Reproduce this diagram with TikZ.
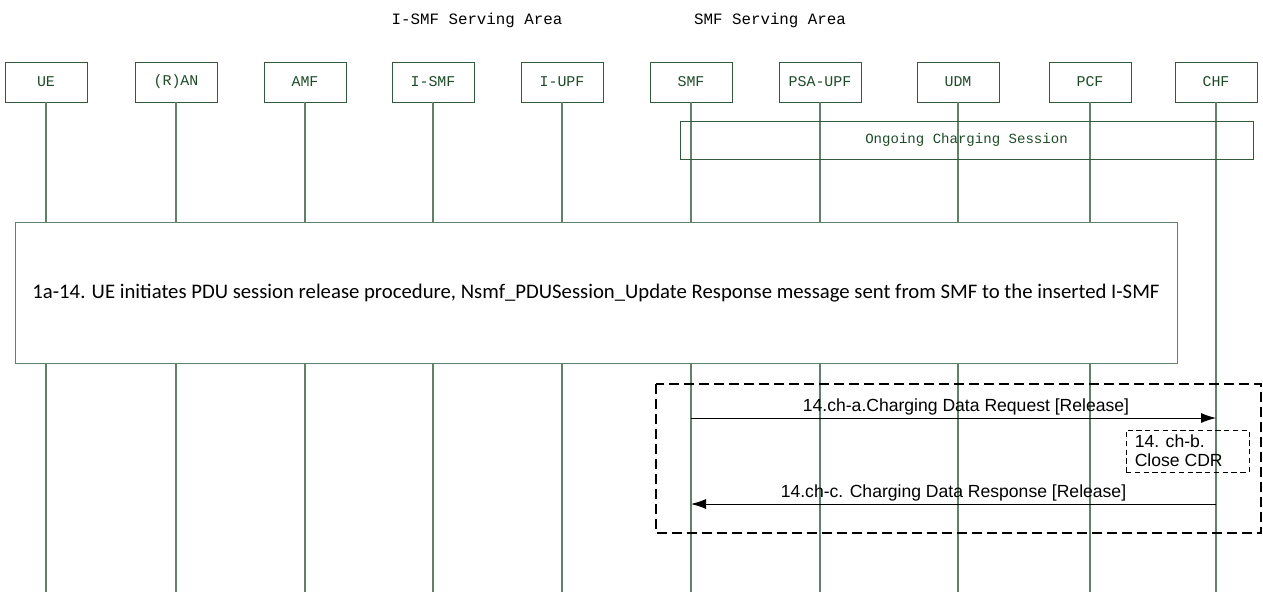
\documentclass[tikz,border=0pt]{standalone}
\usepackage{fontspec}
\usepackage{tikz}
\usetikzlibrary{arrows.meta,positioning,calc}
\newfontfamily\simfont{Liberation Mono}
\newfontfamily\calfont{Carlito}
\newfontfamily\arifont{Liberation Sans}
\definecolor{lifegreen}{RGB}{95,130,105}
\definecolor{boxgreen}{RGB}{50,90,60}
\definecolor{txtgreen}{RGB}{30,75,40}
\begin{document}
\begin{tikzpicture}[x=0.02cm, y=-0.02cm,
    entity/.style={draw=boxgreen, fill=white, minimum width=1.64cm, minimum height=0.8cm, inner sep=0pt, font=\simfont\fontsize{8.5}{9}\selectfont, text=txtgreen},
    life/.style={draw=lifegreen, line width=0.6pt},
    msg/.style={-{Latex[length=0.3cm,width=0.2cm]}, line width=0.5pt},
    msglabel/.style={above, font=\arifont\fontsize{10}{12}\selectfont, inner sep=1.5pt}]
    \useasboundingbox (0,0) rectangle (1263,592);
    \coordinate (bottom) at (0,592);

    % serving areas
    \node[font=\simfont\fontsize{9}{10}\selectfont] (isarea) at (477,20) {I-SMF Serving Area};
    \node[font=\simfont\fontsize{9}{10}\selectfont] (sarea) at (770,20) {SMF Serving Area};

    % network functions
    \node[entity] (ue) at (46,82) {UE};
    \node[entity] (ran) at (176,82) {(R)AN};
    \node[entity] (amf) at (305,82) {AMF};
    \node[entity] (ismf) at (433,82) {I-SMF};
    \node[entity] (iupf) at (562,82) {I-UPF};
    \node[entity] (smf) at (691,82) {SMF};
    \node[entity] (psaupf) at (820,82) {PSA-UPF};
    \node[entity] (udm) at (958,82) {UDM};
    \node[entity] (pcf) at (1090,82) {PCF};
    \node[entity] (chf) at (1216,82) {CHF};

    % lifelines
    \foreach \nf in {ue,ran,amf,ismf,iupf,smf,psaupf,udm,pcf,chf}
        \draw[life] (\nf.south) -- (\nf |- bottom);

    % ongoing session
    \node[draw=boxgreen, minimum width=11.46cm, minimum height=0.76cm, font=\simfont\fontsize{8}{9}\selectfont, text=txtgreen] (ongoing) at (966.5,140) {Ongoing Charging Session};

    % release procedure
    \node[draw=lifegreen, fill=white, minimum width=23.24cm, minimum height=2.82cm, font=\calfont\fontsize{11.8}{13}\selectfont] (release) at (596,293)
        {1a-14. UE initiates PDU session release procedure, Nsmf\_PDUSession\_Update Response message sent from SMF to the inserted I-SMF};

    % charging
    \draw[line width=0.8pt, dash pattern=on 0.2cm off 0.1cm] (656,384) rectangle (1261,533);
    \coordinate (req) at (0,418);
    \coordinate (rsp) at (0,504);
    \draw[msg] (smf |- req) -- node[msglabel, xshift=0.25cm] {14.ch-a.Charging Data Request [Release]} (chf |- req);
    \node[draw, densely dashed, line width=0.4pt, minimum width=2.46cm, minimum height=0.84cm, align=left, inner sep=2pt, font=\arifont\fontsize{10}{11}\selectfont] (cdr) at (1187.5,451)
        {14. ch-b.\\Close CDR\phantom{xx}};
    \draw[msg] (chf |- rsp) -- node[msglabel] {14.ch-c. Charging Data Response [Release]} (smf |- rsp);
\end{tikzpicture}
\end{document}
